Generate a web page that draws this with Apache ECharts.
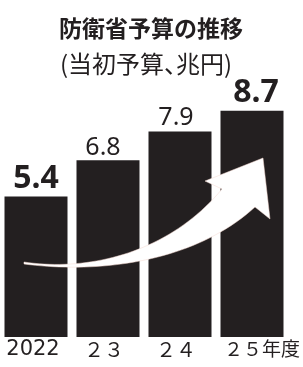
<!DOCTYPE html>
<html><head><meta charset="utf-8">
<script src="https://cdn.jsdelivr.net/npm/echarts@6/dist/echarts.min.js"></script>
<style>html,body{margin:0;padding:0;background:#fff}#c{width:303px;height:367px}</style>
</head><body><div id="c"></div>
<script>
const categories = ['2022', '２３', '２４', '２５年度'];
const values = [5.4, 6.8, 7.9, 8.7];
const valueLabels = ['5.4', '6.8', '7.9', '8.7'];
const INK = '#231f20';
const labelStyles = [
  {fontSize: 32, fontWeight: 'bold', offset: [0, 0], distance: 2},
  {fontSize: 25, fontWeight: 'normal', offset: [-5, 0], distance: 0},
  {fontSize: 25, fontWeight: 'normal', offset: [-4, 0], distance: 1},
  {fontSize: 32, fontWeight: 'bold', offset: [4, 0], distance: 2}
];
const catPad = [[0,6,0,0],[0,8,0,0],[0,8,0,0],[0,0,0,20]];

function bez(p0, p1, p2, p3, n) {
  const out = [];
  for (let k = 0; k <= n; k++) {
    const t = k / n, u = 1 - t;
    out.push([
      u*u*u*p0[0] + 3*u*u*t*p1[0] + 3*u*t*t*p2[0] + t*t*t*p3[0],
      u*u*u*p0[1] + 3*u*u*t*p1[1] + 3*u*t*t*p2[1] + t*t*t*p3[1]
    ]);
  }
  return out;
}
const upper = bez([24,262],[90,272],[170,252],[222,189], 40);
const lower = bez([255,207],[195,262],[100,274],[24,264], 40);
const arrowPts = upper.concat([[205,181],[263,158],[270,219]], lower);

const chart = echarts.init(document.getElementById('c'), null, {renderer: 'canvas'});
chart.setOption({
  animation: false,
  title: [
    {text: '防衛省予算の推移', left: 54, top: 12,
     textStyle: {fontFamily: 'Noto Sans CJK JP', fontSize: 23, fontWeight: 'bold', color: INK}},
    {text: '{a|(当初予算}{b|、}{a|兆円)}', left: 55, top: 47,
     textStyle: {fontWeight: 'normal', rich: {
       a: {fontFamily: 'Noto Sans CJK JP', fontSize: 24, fontWeight: 'normal', color: INK},
       b: {fontFamily: 'Noto Sans CJK JP', fontSize: 24, fontWeight: 'normal', color: INK, width: 12}
     }}}
  ],
  grid: {left: 0, width: 288, top: 77, bottom: 30, containLabel: false},
  xAxis: {
    type: 'category', data: categories,
    axisLine: {show: false}, axisTick: {show: false},
    axisLabel: {
      margin: 2, interval: 0, hideOverlap: false,
      formatter: function (v, i) { return '{c' + i + '|' + v + '}'; },
      rich: {
        c0: {fontFamily: 'DejaVu Sans', fontSize: 21, color: INK, padding: catPad[0]},
        c1: {fontFamily: 'Noto Sans CJK JP', fontSize: 20, color: INK, padding: catPad[1]},
        c2: {fontFamily: 'Noto Sans CJK JP', fontSize: 20, color: INK, padding: catPad[2]},
        c3: {fontFamily: 'Noto Sans CJK JP', fontSize: 19, color: INK, padding: catPad[3]}
      }
    }
  },
  yAxis: {type: 'value', min: 0, max: 10, show: false, splitLine: {show: false}},
  series: [{
    type: 'bar', barWidth: 63,
    itemStyle: {color: INK},
    data: values.map(function (v, i) {
      const s = labelStyles[i];
      return {value: v, label: {show: true, position: 'top', formatter: valueLabels[i],
        fontFamily: 'Noto Sans', fontSize: s.fontSize, fontWeight: s.fontWeight,
        color: INK, offset: s.offset, distance: s.distance}};
    })
  }],
  graphic: [{
    type: 'polygon', z: 100,
    shape: {points: arrowPts},
    style: {fill: '#fff', stroke: '#f4d8d0', lineWidth: 0.5}
  }]
});
</script>
</body></html>
